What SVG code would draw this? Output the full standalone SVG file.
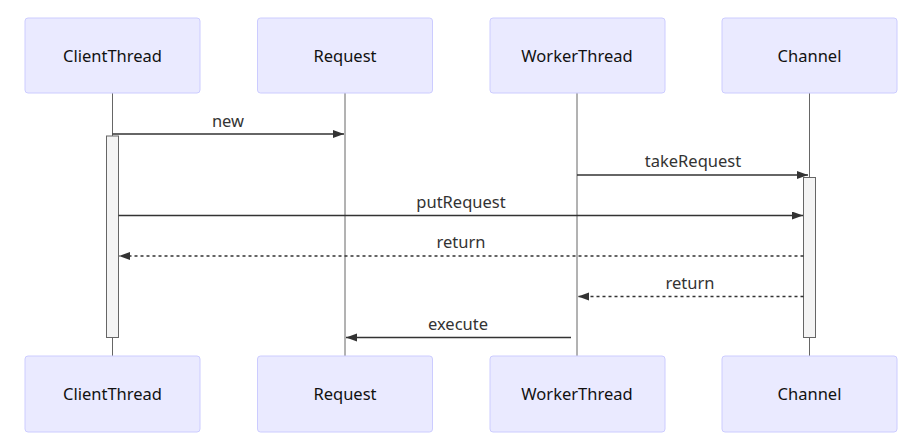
<svg xmlns="http://www.w3.org/2000/svg" width="911" height="444" viewBox="0 0 911 444">
<style>
.actor{fill:#eaeaff;stroke:#ccccff;stroke-width:1}
.atext{font-family:"Noto Sans","Open Sans",sans-serif;font-size:16.5px;fill:#111;text-anchor:middle}
.life{stroke:#666;stroke-width:1}
.act{fill:#f4f4f4;stroke:#666;stroke-width:1}
.msg{stroke:#333;stroke-width:1.5;fill:none}
.dash{stroke-dasharray:3,3}
.mtext{font-family:"Noto Sans","Open Sans",sans-serif;font-size:16.5px;fill:#333;text-anchor:middle}
</style>
<defs>
<marker id="ah" markerWidth="12" markerHeight="10" refX="11" refY="4" orient="auto" markerUnits="userSpaceOnUse">
<path d="M0,0 L11,4 L0,8 z" fill="#333"/>
</marker>
</defs>
<g id="lifelines">
<line class="life" x1="112.5" y1="93" x2="112.5" y2="356"/>
<line class="life" x1="345" y1="93" x2="345" y2="356"/>
<line class="life" x1="577" y1="93" x2="577" y2="356"/>
<line class="life" x1="809.5" y1="93" x2="809.5" y2="356"/>
</g>
<g id="ClientThread">
<rect class="actor" x="25" y="18" width="175" height="75" rx="3"/>
<text class="atext" x="112.5" y="62">ClientThread</text>
</g>
<g id="Request">
<rect class="actor" x="257.5" y="18" width="175" height="75" rx="3"/>
<text class="atext" x="345" y="62">Request</text>
</g>
<g id="WorkerThread">
<rect class="actor" x="490" y="18" width="175" height="75" rx="3"/>
<text class="atext" x="577" y="62">WorkerThread</text>
</g>
<g id="Channel">
<rect class="actor" x="722" y="18" width="175" height="75" rx="3"/>
<text class="atext" x="809.5" y="62">Channel</text>
</g>
<g id="ClientThread-bottom">
<rect class="actor" x="25" y="356" width="175" height="76" rx="3"/>
<text class="atext" x="112.5" y="400">ClientThread</text>
</g>
<g id="Request-bottom">
<rect class="actor" x="257.5" y="356" width="175" height="76" rx="3"/>
<text class="atext" x="345" y="400">Request</text>
</g>
<g id="WorkerThread-bottom">
<rect class="actor" x="490" y="356" width="175" height="76" rx="3"/>
<text class="atext" x="577" y="400">WorkerThread</text>
</g>
<g id="Channel-bottom">
<rect class="actor" x="722" y="356" width="175" height="76" rx="3"/>
<text class="atext" x="809.5" y="400">Channel</text>
</g>
<g id="activations">
<rect class="act" x="106.5" y="136" width="12" height="201.5"/>
<rect class="act" x="803.5" y="177.5" width="12" height="160"/>
</g>
<g id="connectors">
<line class="msg" x1="112.5" y1="134" x2="344" y2="134" marker-end="url(#ah)"/>
<text class="mtext" x="228" y="127">new</text>
<line class="msg" x1="577" y1="175" x2="808" y2="175" marker-end="url(#ah)"/>
<text class="mtext" x="693" y="167">takeRequest</text>
<line class="msg" x1="118.5" y1="215.5" x2="803" y2="215.5" marker-end="url(#ah)"/>
<text class="mtext" x="461" y="208">putRequest</text>
<line class="msg dash" x1="803.5" y1="256" x2="119" y2="256" marker-end="url(#ah)"/>
<text class="mtext" x="461" y="248">return</text>
<line class="msg dash" x1="803.5" y1="296.5" x2="578" y2="296.5" marker-end="url(#ah)"/>
<text class="mtext" x="690" y="289">return</text>
<line class="msg" x1="571" y1="337.5" x2="346" y2="337.5" marker-end="url(#ah)"/>
<text class="mtext" x="458" y="330">execute</text>
</g>
</svg>
